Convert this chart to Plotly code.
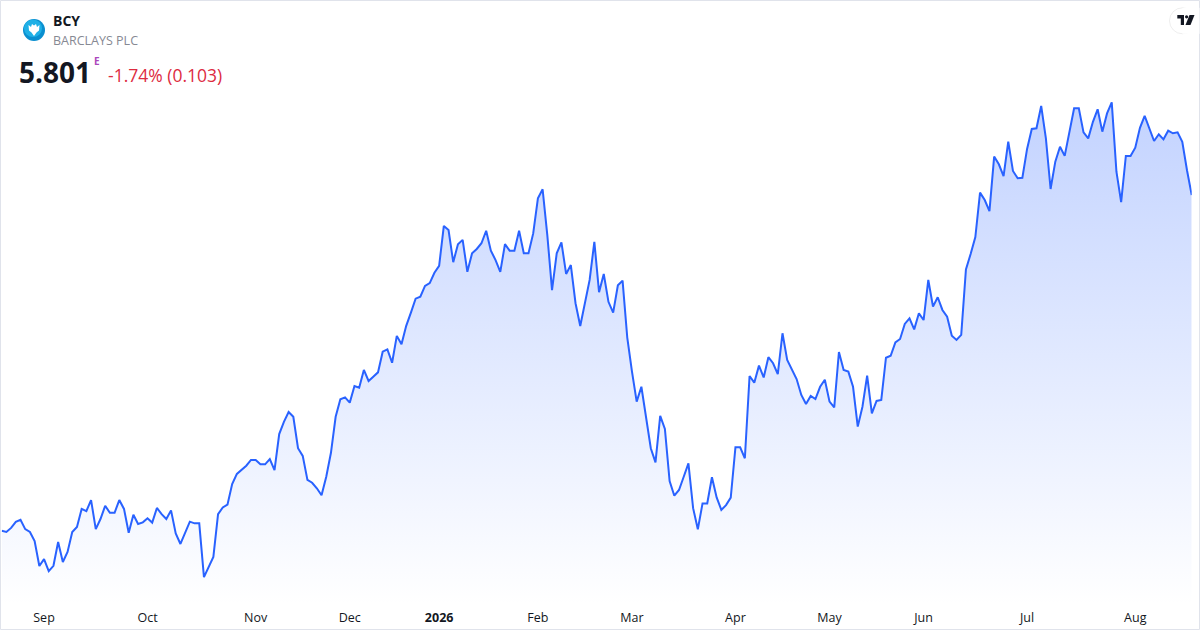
import pandas as pd
import plotly.graph_objects as go

# ---------------- data ----------------
holidays = ["2025-12-24", "2025-12-25", "2025-12-26", "2025-12-31",
            "2026-01-01", "2026-04-03", "2026-04-06", "2026-05-01"]
dates = [d.strftime("%Y-%m-%d") for d in pd.bdate_range("2025-08-19", "2026-08-19")
         if d.strftime("%Y-%m-%d") not in holidays]

prices = [
    4.402, 4.397, 4.414, 4.439, 4.448, 4.409, 4.397, 4.359, 4.255, 4.284,
    4.234, 4.256, 4.355, 4.272, 4.314, 4.397, 4.418, 4.493, 4.484, 4.530,
    4.409, 4.451, 4.506, 4.477, 4.477, 4.530, 4.493, 4.394, 4.469, 4.430,
    4.437, 4.454, 4.436, 4.497, 4.471, 4.451, 4.487, 4.391, 4.347, 4.394,
    4.440, 4.433, 4.433, 4.209, 4.252, 4.293, 4.471, 4.499, 4.511, 4.597,
    4.639, 4.655, 4.673, 4.697, 4.697, 4.679, 4.679, 4.701, 4.655, 4.805,
    4.856, 4.897, 4.877, 4.746, 4.714, 4.614, 4.602, 4.579, 4.550, 4.627,
    4.727, 4.877, 4.950, 4.958, 4.936, 5.005, 4.998, 5.072, 5.026, 5.044,
    5.062, 5.148, 5.158, 5.102, 5.214, 5.179, 5.256, 5.311, 5.369, 5.377,
    5.422, 5.434, 5.477, 5.506, 5.672, 5.655, 5.521, 5.596, 5.614, 5.481,
    5.558, 5.576, 5.600, 5.652, 5.569, 5.530, 5.481, 5.596, 5.569, 5.569,
    5.652, 5.558, 5.558, 5.641, 5.787, 5.825, 5.634, 5.405, 5.558, 5.604,
    5.472, 5.509, 5.350, 5.255, 5.350, 5.447, 5.606, 5.396, 5.472, 5.356,
    5.311, 5.425, 5.444, 5.207, 5.065, 4.940, 5.002, 4.871, 4.746, 4.687,
    4.881, 4.826, 4.609, 4.548, 4.572, 4.627, 4.683, 4.496, 4.408, 4.516,
    4.516, 4.625, 4.541, 4.489, 4.509, 4.540, 4.750, 4.750, 4.704, 5.047,
    5.019, 5.090, 5.041, 5.125, 5.100, 5.055, 5.225, 5.114, 5.072, 5.034,
    4.968, 4.930, 4.964, 4.951, 5.002, 5.031, 4.940, 4.916, 5.147, 5.072,
    5.065, 5.002, 4.836, 4.919, 5.048, 4.891, 4.943, 4.947, 5.123, 5.131,
    5.187, 5.201, 5.264, 5.287, 5.241, 5.308, 5.280, 5.447, 5.336, 5.375,
    5.322, 5.294, 5.215, 5.197, 5.218, 5.491, 5.555, 5.626, 5.811, 5.780,
    5.734, 5.961, 5.929, 5.880, 6.023, 5.901, 5.871, 5.873, 5.993, 6.076,
    6.079, 6.172, 6.037, 5.826, 5.940, 6.002, 5.964, 6.058, 6.162, 6.162,
    6.062, 6.037, 6.106, 6.158, 6.065, 6.141, 6.187, 5.898, 5.771, 5.964,
    5.964, 5.998, 6.081, 6.131, 6.079, 6.026, 6.054, 6.033, 6.069, 6.058,
    6.062, 6.023, 5.904, 5.801,
]

tick_dates = ["2025-09-01", "2025-10-01", "2025-11-03", "2025-12-01", "2026-01-02",
              "2026-02-02", "2026-03-02", "2026-04-01", "2026-05-04", "2026-06-01",
              "2026-07-01", "2026-08-03"]
tick_labels = ["Sep", "Oct", "Nov", "Dec", "<b>2026</b>", "Feb", "Mar", "Apr",
               "May", "Jun", "Jul", "Aug"]

symbol = "BCY"
company = "BARCLAYS PLC"
last_price = "5.801"
change_text = "-1.74% (0.103)"

# ---------------- layout helpers ----------------
W, H = 1200, 630
def px(x):
    return x / W
def py(y):
    return 1 - y / H

Y_LO, Y_HI = 4.0927, 6.6135
LINE = "#2962FF"

fig = go.Figure()
fig.add_trace(go.Scatter(
    x=dates, y=prices, mode="lines",
    line=dict(color=LINE, width=2),
    fill="tozeroy",
    fillgradient=dict(type="vertical",
                      colorscale=[[0, "rgba(41,98,255,0.0)"], [1, "rgba(41,98,255,0.34)"]],
                      start=Y_LO, stop=Y_HI),
    hoverinfo="skip", showlegend=False,
))

fig.update_layout(
    width=W, height=H,
    margin=dict(l=0, r=0, t=0, b=0),
    paper_bgcolor="white", plot_bgcolor="white",
    font=dict(family="Open Sans", color="#131722"),
    xaxis=dict(type="category", domain=[px(1.7), px(1191.7)],
               range=[0, len(dates) - 1],
               tickmode="array", tickvals=tick_dates, ticktext=tick_labels,
               showgrid=False, zeroline=False, showline=False, ticks="",
               ticklabelstandoff=3,
               tickfont=dict(size=12.5, color="#131722", family="Open Sans")),
    yaxis=dict(domain=[25 / H, 1], range=[Y_LO, Y_HI], visible=False,
               showgrid=False, zeroline=False),
)

shapes = []
# outer border
shapes.append(dict(type="rect", xref="paper", yref="paper",
                   x0=px(0.5), x1=px(1199.5), y0=py(629.5), y1=py(0.5),
                   line=dict(color="#e0e3eb", width=1), fillcolor="rgba(0,0,0,0)", layer="above"))
# company logo
shapes.append(dict(type="circle", xref="paper", yref="paper",
                   x0=px(23), x1=px(45), y0=py(41), y1=py(19),
                   line=dict(width=0), fillcolor="#0a8fd0", layer="above"))
shapes.append(dict(type="circle", xref="paper", yref="paper",
                   x0=px(24), x1=px(42), y0=py(37), y1=py(19.5),
                   line=dict(width=0), fillcolor="#1fb0e6", layer="above"))
eagle = [(28.5, 25), (31, 27), (32, 24), (34, 25.5), (36, 24), (37, 27), (39.5, 25),
         (39, 30.5), (36.5, 32.5), (34, 36), (31.5, 32.5), (29, 30.5)]
path = "M " + " L ".join(f"{px(a)},{py(b)}" for a, b in eagle) + " Z"
shapes.append(dict(type="path", xref="paper", yref="paper", path=path,
                   line=dict(width=0), fillcolor="white", layer="above"))
# TradingView badge
shapes.append(dict(type="circle", xref="paper", yref="paper",
                   x0=px(1169.5), x1=px(1195.5), y0=py(33.8), y1=py(7.8),
                   line=dict(color="rgba(0,0,0,0.07)", width=1), fillcolor="white", layer="above"))
shapes.append(dict(type="rect", xref="paper", yref="paper",
                   x0=px(1182.5), x1=px(1199.5), y0=py(33.8), y1=py(7.8),
                   line=dict(width=0), fillcolor="white", layer="above"))
shapes.append(dict(type="rect", xref="paper", yref="paper",
                   x0=px(1177.3), x1=px(1184), y0=py(18.5), y1=py(15),
                   line=dict(width=0), fillcolor="#131722", layer="above"))
shapes.append(dict(type="rect", xref="paper", yref="paper",
                   x0=px(1180.8), x1=px(1184), y0=py(25), y1=py(15),
                   line=dict(width=0), fillcolor="#131722", layer="above"))
shapes.append(dict(type="circle", xref="paper", yref="paper",
                   x0=px(1185), x1=px(1188.2), y0=py(18.4), y1=py(15.2),
                   line=dict(width=0), fillcolor="#131722", layer="above"))
slash = [(1189.5, 15), (1194.5, 15), (1190.5, 25), (1185.5, 25)]
shapes.append(dict(type="path", xref="paper", yref="paper",
                   path="M " + " L ".join(f"{px(a)},{py(b)}" for a, b in slash) + " Z",
                   line=dict(width=0), fillcolor="#131722", layer="above"))
fig.update_layout(shapes=shapes)

ann = []
ann.append(dict(x=px(51), y=py(20.5), text=f"<b>{symbol}</b>", showarrow=False,
                xref="paper", yref="paper", xanchor="left", yanchor="middle",
                font=dict(size=14, color="#131722", family="Open Sans")))
ann.append(dict(x=px(50.5), y=py(40.5), text=company, showarrow=False,
                xref="paper", yref="paper", xanchor="left", yanchor="middle",
                font=dict(size=12.5, color="#868993", family="Open Sans")))
ann.append(dict(x=px(16.5), y=py(71.5), text=f"<b>{last_price}</b>", showarrow=False,
                xref="paper", yref="paper", xanchor="left", yanchor="middle",
                font=dict(size=28, color="#131722", family="Open Sans")))
ann.append(dict(x=px(92), y=py(61), text="<b>E</b>", showarrow=False,
                xref="paper", yref="paper", xanchor="left", yanchor="middle",
                font=dict(size=10, color="#ab47bc", family="Open Sans")))
ann.append(dict(x=px(106), y=py(75), text=change_text, showarrow=False,
                xref="paper", yref="paper", xanchor="left", yanchor="middle",
                font=dict(size=17.5, color="#dd2b3f", family="Open Sans")))
fig.update_layout(annotations=ann)

fig.write_html("out.html", config={"displayModeBar": False},
               post_script="document.body.style.margin='0px';document.body.style.overflow='hidden';")
